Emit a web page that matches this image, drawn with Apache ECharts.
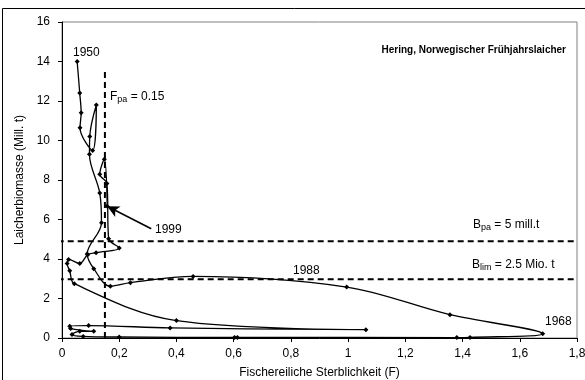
<!DOCTYPE html>
<html>
<head>
<meta charset="utf-8">
<script src="https://cdn.jsdelivr.net/npm/echarts@6/dist/echarts.min.js"></script>
<style>
html, body { margin: 0; padding: 0; background: #fff; }
#chart { width: 585px; height: 380px; }
</style>
</head>
<body>
<div id="chart"></div>
<script>
// Fischereiliche Sterblichkeit (F) und Laicherbiomasse, 1950 .. 1999 in Reihenfolge
const fishingMortality = [
    0.053, 0.062, 0.067, 0.063, 0.107, 0.120, 0.097, 0.096, 0.132, 0.138,
    0.088, 0.111, 0.169, 0.239, 0.458, 0.995, 1.356, 1.680, 1.426, 1.380,
    0.613, 0.603, 0.200, 0.074, 0.035, 0.062, 0.111, 0.030, 0.027, 0.093,
    0.378, 1.062, 0.400, 0.043, 0.027, 0.018, 0.023, 0.062, 0.090, 0.119,
    0.200, 0.163, 0.157, 0.132, 0.148, 0.158
];
const spawningBiomass = [
    14.0, 12.4, 11.4, 10.65, 9.5, 11.8, 10.2, 9.3, 7.34, 5.84,
    4.25, 3.51, 2.62, 2.8, 3.12, 2.58, 1.18, 0.22, 0.03, 0.02,
    0.03, 0.03, 0.05, 0.08, 0.18, 0.34, 0.34, 0.48, 0.59, 0.63,
    0.51, 0.42, 0.88, 2.75, 3.4, 3.77, 3.98, 3.77, 4.22, 4.32,
    4.56, 5.03, 7.82, 8.29, 9.05, 6.67
];

const xTickLabels = ['0', '0,2', '0,4', '0,6', '0,8', '1', '1,2', '1,4', '1,6', '1,8'];
const yTickLabels = ['0', '2', '4', '6', '8', '10', '12', '14', '16'];

// Referenzpunkte
const fPa = 0.15;
const fPaTop = 13.6;
const bPa = 4.9;
const bLim = 2.97;
const lineStart = -0.05;
const lineEnd = 1.8;

// Pfeil auf 1999
const arrowFrom = [0.312, 5.53];
const arrowTo = [0.158, 6.67];

const font = '"Liberation Sans", Arial, sans-serif';

const points = fishingMortality.map((f, i) => [f, spawningBiomass[i]]);

const dashed = { color: '#000', width: 2, type: [6, 4] };

const chart = echarts.init(document.getElementById('chart'));

const option = {
    animation: false,
    textStyle: { fontFamily: font, color: '#000' },
    grid: {
        left: 62,
        top: 22,
        right: 8,
        bottom: 42,
        show: true,
        borderColor: '#808080',
        borderWidth: 1,
        outerBoundsMode: 'none'
    },
    xAxis: {
        type: 'value',
        min: 0,
        max: 1.8,
        interval: 0.2,
        name: 'Fischereiliche Sterblichkeit (F)',
        nameLocation: 'middle',
        nameGap: 29,
        nameTextStyle: { fontSize: 12, color: '#000', fontFamily: font, verticalAlign: 'top' },
        axisLine: { show: true, lineStyle: { color: '#000', width: 1 } },
        axisTick: { show: true, inside: false, length: 4, lineStyle: { color: '#000' } },
        axisLabel: {
            color: '#000',
            fontSize: 12,
            fontFamily: font,
            margin: 10,
            formatter: (v, i) => xTickLabels[i]
        },
        splitLine: { show: false }
    },
    yAxis: {
        type: 'value',
        min: 0,
        max: 16,
        interval: 2,
        name: 'Laicherbiomasse (Mill. t)',
        nameLocation: 'middle',
        nameGap: 34,
        nameRotate: 90,
        nameTextStyle: { fontSize: 12, color: '#000', fontFamily: font },
        axisLine: { show: true, lineStyle: { color: '#000', width: 1 } },
        axisTick: { show: true, inside: false, length: 4, lineStyle: { color: '#000' } },
        axisLabel: {
            color: '#000',
            fontSize: 12,
            fontFamily: font,
            margin: 12,
            formatter: (v, i) => yTickLabels[i]
        },
        splitLine: { show: false }
    },
    series: [
        {
            name: 'Fpa',
            type: 'line',
            data: [[fPa, 0], [fPa, fPaTop]],
            symbol: 'none',
            lineStyle: dashed,
            silent: true
        },
        {
            name: 'Bpa',
            type: 'line',
            data: [[lineStart, bPa], [lineEnd, bPa]],
            symbol: 'none',
            clip: false,
            lineStyle: dashed,
            silent: true
        },
        {
            name: 'Blim',
            type: 'line',
            data: [[lineStart, bLim], [lineEnd, bLim]],
            symbol: 'none',
            clip: false,
            lineStyle: dashed,
            silent: true
        },
        {
            name: 'Hering',
            type: 'line',
            data: points,
            smooth: 0.35,
            symbol: 'diamond',
            symbolSize: 5,
            showAllSymbol: true,
            clip: false,
            itemStyle: { color: '#000' },
            lineStyle: { color: '#000', width: 1.3 },
            z: 5,
            markLine: {
                silent: true,
                symbol: ['none', 'arrow'],
                symbolSize: [9, 12],
                label: { show: false },
                lineStyle: { color: '#000', width: 1.5, type: 'solid' },
                data: [[{ coord: arrowFrom }, { coord: arrowTo }]]
            }
        }
    ],
    graphic: [
        {
            type: 'rect',
            shape: { x: 2.5, y: 8.5, width: 600, height: 400 },
            style: { fill: 'none', stroke: '#000', lineWidth: 1 },
            silent: true
        },
        {
            type: 'text',
            right: 19,
            top: 45,
            style: { text: 'Hering, Norwegischer Frühjahrslaicher', font: 'bold 10px ' + font, fill: '#000' }
        },
        {
            type: 'text',
            left: 73,
            top: 47,
            style: { text: '1950', font: '12px ' + font, fill: '#000' }
        },
        {
            type: 'text',
            left: 110,
            top: 91,
            style: {
                text: 'F{s|pa} = 0.15',
                font: '12px ' + font,
                fill: '#000',
                rich: { s: { fontSize: 9, fontFamily: font, padding: [6, 0, 0, 0] } }
            }
        },
        {
            type: 'text',
            left: 155,
            top: 224,
            style: { text: '1999', font: '12px ' + font, fill: '#000' }
        },
        {
            type: 'text',
            left: 293,
            top: 265,
            style: { text: '1988', font: '12px ' + font, fill: '#000' }
        },
        {
            type: 'text',
            left: 545,
            top: 316,
            style: { text: '1968', font: '12px ' + font, fill: '#000' }
        },
        {
            type: 'text',
            left: 473,
            top: 219,
            style: {
                text: 'B{s|pa} = 5 mill.t',
                font: '12px ' + font,
                fill: '#000',
                rich: { s: { fontSize: 9, fontFamily: font, padding: [6, 0, 0, 0] } }
            }
        },
        {
            type: 'text',
            left: 472,
            top: 259,
            style: {
                text: 'B{s|lim} = 2.5 Mio. t',
                font: '12px ' + font,
                fill: '#000',
                rich: { s: { fontSize: 9, fontFamily: font, padding: [6, 0, 0, 0] } }
            }
        }
    ]
};

chart.setOption(option);
</script>
</body>
</html>
